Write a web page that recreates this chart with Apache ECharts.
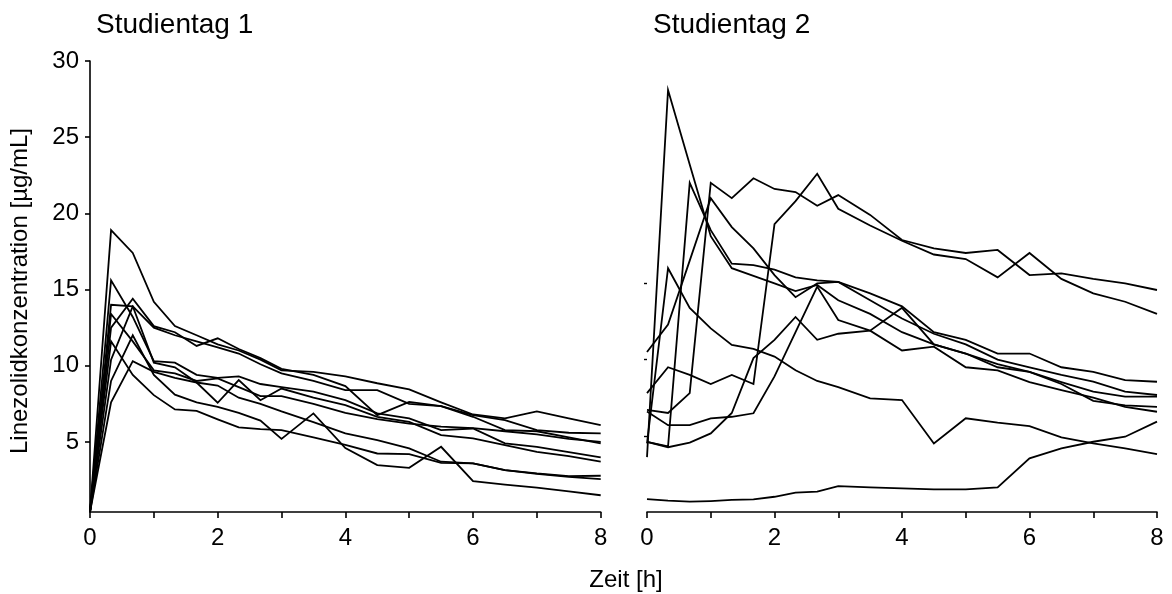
<!DOCTYPE html>
<html>
<head>
<meta charset="utf-8">
<title>Linezolidkonzentration</title>
<script src="https://cdn.jsdelivr.net/npm/echarts@6/dist/echarts.min.js"></script>
<style>
  html, body { margin: 0; padding: 0; background: #fff; }
  #chart { width: 1172px; height: 594px; }
</style>
</head>
<body>
<div id="chart"></div>
<script>
// Sampling times [h]
const times = [0, 0.33, 0.67, 1, 1.33, 1.67, 2, 2.33, 2.67, 3, 3.5, 4, 4.5, 5, 5.5, 6, 6.5, 7, 7.5, 8];

// Studientag 1 – concentration per subject [µg/mL]
const day1S01 = [0.4, 18.9, 17.4, 14.2, 12.6, 12.0, 11.4, 11.0, 10.4, 9.7, 9.6, 9.3, 8.85, 8.45, 7.6, 6.8, 6.55, 7.0, 6.55, 6.1];
const day1S02 = [0.4, 12.5, 14.4, 12.6, 12.2, 11.3, 11.8, 11.1, 10.5, 9.8, 9.4, 8.66, 6.76, 7.63, 7.35, 6.65, 5.77, 5.7, 5.3, 4.9];
const day1S03 = [0.4, 10.4, 13.9, 12.5, 12.0, 11.6, 11.2, 10.8, 10.1, 9.5, 9.0, 8.4, 8.4, 7.5, 7.35, 6.76, 6.43, 5.77, 5.6, 5.56];
const day1S04 = [0.4, 15.6, 13.2, 10.3, 10.2, 9.4, 9.2, 9.3, 8.8, 8.6, 8.3, 7.74, 6.87, 6.54, 5.77, 5.88, 4.9, 4.68, 4.33, 3.98];
const day1S05 = [0.4, 14.0, 13.9, 10.2, 9.9, 8.9, 7.57, 9.06, 7.74, 8.5, 7.9, 7.41, 6.65, 6.32, 5.45, 5.23, 4.79, 4.35, 4.07, 3.7];
const day1S06 = [0.4, 13.4, 11.6, 9.7, 9.5, 9.0, 9.17, 8.6, 8.0, 8.0, 7.5, 6.9, 6.5, 6.2, 6.0, 5.9, 5.7, 5.5, 5.2, 5.0];
const day1S07 = [0.4, 7.6, 10.3, 9.6, 9.2, 8.9, 8.7, 7.9, 7.5, 7.0, 6.3, 5.56, 5.12, 4.57, 3.7, 3.59, 3.15, 2.93, 2.76, 2.78];
const day1S08 = [0.4, 11.6, 9.4, 8.07, 7.13, 7.04, 6.48, 5.95, 5.84, 5.77, 5.3, 4.8, 4.24, 4.2, 3.63, 3.59, 3.15, 2.9, 2.7, 2.56];
const day1S09 = [0.4, 9.0, 12.0, 9.4, 8.1, 7.6, 7.3, 6.9, 6.4, 5.2, 6.87, 4.6, 3.48, 3.3, 4.68, 2.43, 2.2, 2.0, 1.75, 1.5];

// Studientag 2 – concentration per subject [µg/mL]
const day2S01 = [6.7, 6.5, 7.8, 21.6, 20.6, 21.9, 21.2, 21.0, 20.1, 20.8, 19.5, 17.85, 17.3, 17.0, 17.2, 15.55, 15.66, 15.3, 15.0, 14.57];
const day2S02 = [7.8, 9.5, 9.0, 8.4, 9.0, 8.4, 18.9, 20.4, 22.2, 19.9, 18.8, 17.8, 16.9, 16.6, 15.4, 17.0, 15.3, 14.35, 13.8, 13.0];
const day2S03 = [0.85, 0.74, 0.68, 0.72, 0.79, 0.83, 1.0, 1.27, 1.34, 1.7, 1.62, 1.55, 1.49, 1.49, 1.62, 3.52, 4.18, 4.61, 4.94, 5.93];
const day2S04 = [4.5, 16.0, 13.4, 12.05, 10.96, 10.7, 10.2, 9.3, 8.6, 8.2, 7.46, 7.35, 4.5, 6.15, 5.86, 5.64, 4.9, 4.5, 4.18, 3.8];
const day2S05 = [3.6, 27.7, 22.8, 18.1, 16.0, 15.5, 15.0, 14.5, 14.9, 13.9, 13.0, 11.8, 11.0, 10.4, 9.5, 9.2, 8.4, 7.3, 7.0, 6.9];
const day2S06 = [10.5, 12.3, 16.5, 20.6, 18.7, 17.3, 15.55, 14.1, 15.0, 15.1, 14.35, 13.5, 11.8, 11.3, 10.4, 10.4, 9.5, 9.2, 8.66, 8.55];
const day2S07 = [4.6, 4.3, 21.6, 18.5, 16.3, 16.2, 15.9, 15.4, 15.2, 15.1, 13.9, 12.7, 11.7, 11.0, 10.0, 9.5, 9.0, 8.55, 7.9, 7.68];
const day2S08 = [6.6, 5.7, 5.7, 6.15, 6.25, 6.48, 8.9, 11.8, 14.8, 12.6, 11.9, 10.6, 10.85, 9.5, 9.3, 8.53, 8.0, 7.5, 6.9, 6.58];
const day2S09 = [4.6, 4.25, 4.55, 5.16, 6.5, 10.1, 11.3, 12.8, 11.3, 11.7, 11.9, 13.4, 11.0, 10.4, 9.7, 9.2, 8.53, 7.9, 7.57, 7.57];

// Axis ticks
const xLabelValues = [0, 2, 4, 6, 8];
const xTickValues = [0, 1, 2, 3, 4, 5, 6, 7, 8];
const yLabelValues = [5, 10, 15, 20, 25, 30];
const yTickValuesDay2 = [5, 10, 15];

const day1 = [day1S01, day1S02, day1S03, day1S04, day1S05, day1S06, day1S07, day1S08, day1S09];
const day2 = [day2S01, day2S02, day2S03, day2S04, day2S05, day2S06, day2S07, day2S08, day2S09];

const FONT = '"Liberation Sans", Arial, Helvetica, sans-serif';
const INK = '#000';

function profile(values, panel) {
  return {
    type: 'line',
    xAxisIndex: panel,
    yAxisIndex: panel,
    data: times.map((t, i) => [t, values[i]]),
    showSymbol: false,
    symbol: 'none',
    silent: true,
    clip: false,
    lineStyle: { color: '#000', width: 1.8, join: 'miter' }
  };
}

function xAxis(panel) {
  return {
    type: 'value',
    gridIndex: panel,
    min: 0,
    max: 8,
    axisLine: { show: true, onZero: false, lineStyle: { color: INK, width: 1.6 } },
    axisTick: { show: true, customValues: xTickValues, length: 6, lineStyle: { color: INK, width: 1.6 } },
    axisLabel: { customValues: xLabelValues, color: INK, fontSize: 24, fontFamily: FONT, margin: 14 },
    splitLine: { show: false }
  };
}

const chart = echarts.init(document.getElementById('chart'), null, { renderer: 'canvas' });

chart.setOption({
  animation: false,
  backgroundColor: '#fff',
  title: [
    { text: 'Studientag 1', left: 91, top: 6, textStyle: { color: INK, fontSize: 28, fontWeight: 'normal', fontFamily: FONT } },
    { text: 'Studientag 2', left: 648, top: 6, textStyle: { color: INK, fontSize: 28, fontWeight: 'normal', fontFamily: FONT } }
  ],
  grid: [
    { left: 90, top: 61, width: 510.7, height: 451 },
    { left: 647, top: 61, width: 510, height: 451 }
  ],
  xAxis: [xAxis(0), xAxis(1)],
  yAxis: [
    {
      type: 'value',
      gridIndex: 0,
      min: 0.4,
      max: 30,
      axisLine: { show: true, lineStyle: { color: INK, width: 1.6 } },
      axisTick: { show: true, customValues: yLabelValues, length: 5, lineStyle: { color: INK, width: 1.6 } },
      axisLabel: { customValues: yLabelValues, color: INK, fontSize: 24, fontFamily: FONT, margin: 11 },
      splitLine: { show: false }
    },
    {
      type: 'value',
      gridIndex: 1,
      min: 0,
      max: 29.6,
      axisLine: { show: false },
      axisTick: { show: true, customValues: yTickValuesDay2, length: 3, lineStyle: { color: INK, width: 1.4 } },
      axisLabel: { show: false },
      splitLine: { show: false }
    }
  ],
  graphic: [
    {
      type: 'text',
      x: 20,
      y: 291,
      rotation: Math.PI / 2,
      style: {
        text: 'Linezolidkonzentration [µg/mL]',
        fill: INK,
        font: '24px ' + FONT,
        textAlign: 'center',
        textVerticalAlign: 'middle'
      }
    },
    {
      type: 'text',
      x: 626,
      y: 580,
      style: {
        text: 'Zeit [h]',
        fill: INK,
        font: '24px ' + FONT,
        textAlign: 'center',
        textVerticalAlign: 'middle'
      }
    }
  ],
  series: [
    ...day1.map(v => profile(v, 0)),
    ...day2.map(v => profile(v, 1))
  ]
});
</script>
</body>
</html>
